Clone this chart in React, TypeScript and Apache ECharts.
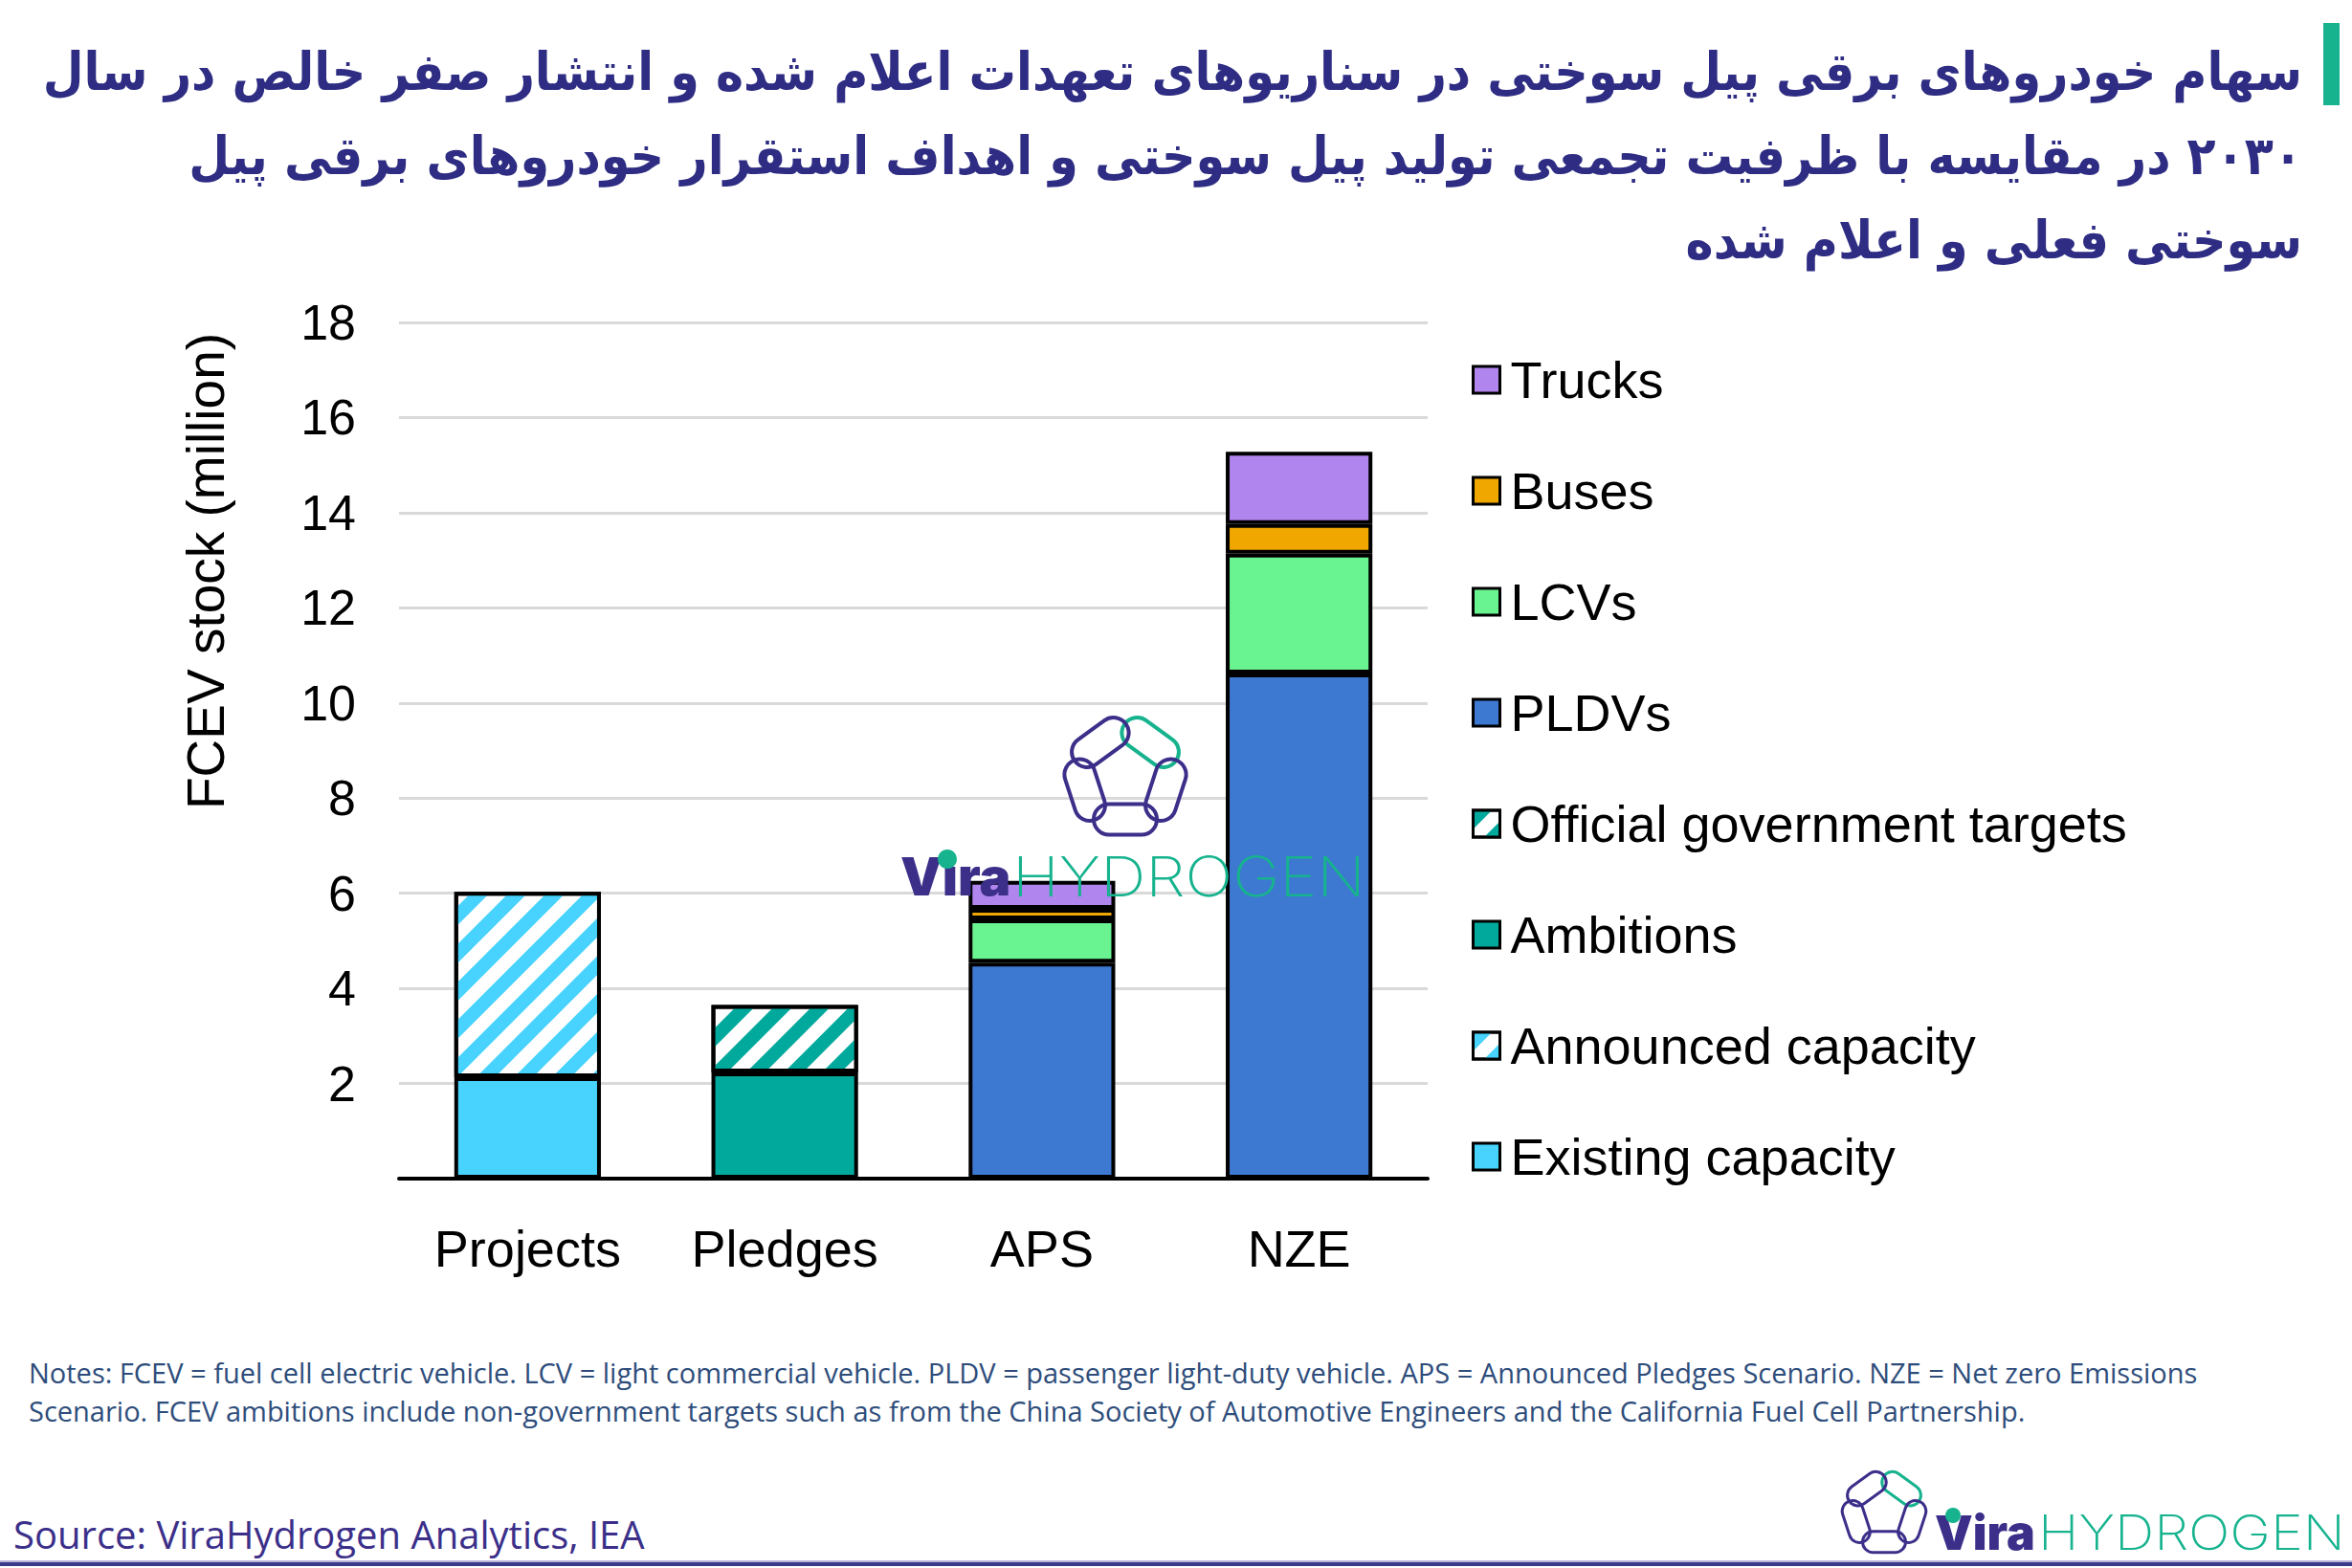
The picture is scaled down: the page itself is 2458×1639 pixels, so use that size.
import React, { useEffect, useRef } from 'react';
import * as echarts from 'echarts';

const categories = ['Projects', 'Pledges', 'APS', 'NZE'];
const existingCapacity: (number | string)[] = [2.13, '-', '-', '-'];
const announcedCapacity: (number | string)[] = [3.9, '-', '-', '-'];
const ambitions: (number | string)[] = ['-', 2.23, '-', '-'];
const officialTargets: (number | string)[] = ['-', 1.42, '-', '-'];
const pldvs: (number | string)[] = ['-', '-', 4.54, 10.62];
const lcvs: (number | string)[] = ['-', '-', 0.91, 2.52];
const buses: (number | string)[] = ['-', '-', 0.22, 0.62];
const trucks: (number | string)[] = ['-', '-', 0.59, 1.52];

const yMin = 0;
const yMax = 18;
const yInterval = 2;
const yAxisName = 'FCEV stock (million)';

const legendOrder = [
  'Trucks',
  'Buses',
  'LCVs',
  'PLDVs',
  'Official government targets',
  'Ambitions',
  'Announced capacity',
  'Existing capacity',
];

const titleLines = [
  'سهام خودروهای برقی پیل سوختی در سناریوهای تعهدات اعلام شده و انتشار صفر خالص در سال',
  '\u200F۲۰۳۰ در مقایسه با ظرفیت تجمعی تولید پیل سوختی و اهداف استقرار خودروهای برقی پیل',
  'سوختی فعلی و اعلام شده',
];

const notesLines = [
  'Notes: FCEV = fuel cell electric vehicle. LCV = light commercial vehicle. PLDV = passenger light-duty vehicle. APS = Announced Pledges Scenario. NZE = Net zero Emissions',
  'Scenario. FCEV ambitions include non-government targets such as from the China Society of Automotive Engineers and the California Fuel Cell Partnership.',
];
const sourceText = 'Source: ViraHydrogen Analytics, IEA';

const NAVY = '#2E2D83';
const TEAL = '#16B38E';
const FONT = "'Liberation Sans', Arial, sans-serif";

function chainLogo(cx: number, cy: number, R: number, W: number, L: number, lw: number) {
  const verts: number[][] = [];
  for (let k = 0; k < 5; k++) {
    const a = ((-90 + 72 * k) * Math.PI) / 180;
    verts.push([cx + R * Math.cos(a), cy + R * Math.sin(a)]);
  }
  const els: any[] = [];
  for (let k = 0; k < 5; k++) {
    const p = verts[k];
    const q = verts[(k + 1) % 5];
    const mx = (p[0] + q[0]) / 2;
    const my = (p[1] + q[1]) / 2;
    const ang = Math.atan2(q[1] - p[1], q[0] - p[0]);
    els.push({
      type: 'rect',
      x: mx,
      y: my,
      rotation: -ang,
      shape: { x: -L / 2, y: -W / 2, width: L, height: W, r: W / 2 },
      style: { fill: 'none', stroke: k === 0 ? TEAL : '#3B2F8A', lineWidth: lw },
      z: 100,
      silent: true,
    });
  }
  return els;
}

function brand(
  x: number,
  yMid: number,
  viraSize: number,
  hydroSize: number,
  hydroX: number,
  hydroScaleX: number,
  dot: number[]
) {
  return [
    {
      type: 'text',
      x,
      y: yMid,
      z: 100,
      silent: true,
      style: {
        text: 'Vira',
        fill: '#3B2F8A',
        font: `900 ${viraSize}px Inter, 'Noto Sans', sans-serif`,
        verticalAlign: 'middle',
        align: 'left',
      },
    },
    {
      type: 'circle',
      z: 101,
      silent: true,
      shape: { cx: dot[0], cy: dot[1], r: dot[2] },
      style: { fill: TEAL },
    },
    {
      type: 'text',
      x: hydroX,
      y: yMid,
      scaleX: hydroScaleX,
      z: 100,
      silent: true,
      style: {
        text: 'HYDROGEN',
        fill: TEAL,
        font: `200 ${hydroSize}px Inter, 'Noto Sans', sans-serif`,
        verticalAlign: 'middle',
        align: 'left',
      },
    },
  ];
}

function hatch(color: string) {
  return {
    symbol: 'rect',
    symbolSize: 1,
    symbolKeepAspect: false,
    color,
    dashArrayX: [1, 0],
    dashArrayY: [14, 14],
    rotation: -Math.PI / 4,
  };
}

function bar(name: string, data: (number | string)[], color: string, hatched?: boolean) {
  const itemStyle: any = {
    color: hatched ? '#FFFFFF' : color,
    borderColor: '#000000',
    borderWidth: 4,
  };
  if (hatched) itemStyle.decal = hatch(color);
  return {
    name,
    type: 'bar',
    stack: 'total',
    data,
    barWidth: '57%',
    itemStyle,
    emphasis: { disabled: true },
  };
}

export default function App() {
  const ref = useRef<HTMLDivElement>(null);
  useEffect(() => {
    const chart = echarts.init(ref.current!, null, { renderer: 'svg' });
    const graphics: any[] = [];
    titleLines.forEach((t, i) => {
      graphics.push({
        type: 'text',
        x: 2406,
        y: 75 + i * 88,
        silent: true,
        style: {
          text: t,
          fill: NAVY,
          font: "bold 54.8px 'DejaVu Sans Condensed', 'DejaVu Sans', sans-serif",
          align: 'right',
          verticalAlign: 'middle',
        },
      });
    });
    graphics.push({
      type: 'rect',
      shape: { x: 2428, y: 24, width: 17, height: 86 },
      style: { fill: TEAL },
      silent: true,
    });
    graphics.push({
      type: 'text',
      x: 215,
      y: 597,
      rotation: Math.PI / 2,
      silent: true,
      style: {
        text: yAxisName,
        fill: '#000000',
        font: `55px ${FONT}`,
        align: 'center',
        verticalAlign: 'middle',
      },
    });
    notesLines.forEach((t, i) => {
      graphics.push({
        type: 'text',
        x: 30,
        y: 1434 + i * 40,
        silent: true,
        style: {
          text: t,
          fill: '#2E4D7B',
          font: "29px 'Open Sans', sans-serif",
          align: 'left',
          verticalAlign: 'middle',
        },
      });
    });
    graphics.push({
      type: 'text',
      x: 14,
      y: 1603,
      silent: true,
      style: {
        text: sourceText,
        fill: '#3B2F8A',
        font: "40px 'Open Sans', sans-serif",
        align: 'left',
        verticalAlign: 'middle',
      },
    });
    graphics.push({
      type: 'rect',
      shape: { x: 0, y: 1631, width: 2458, height: 2 },
      style: { fill: '#B9B6DA' },
      silent: true,
    });
    graphics.push({
      type: 'rect',
      shape: { x: 0, y: 1633, width: 2458, height: 4 },
      style: { fill: '#3B3A8A' },
      silent: true,
    });
    // watermark logo
    graphics.push(...chainLogo(1176, 812, 55, 32, 66, 4));
    graphics.push(...brand(941, 916, 55, 58, 1058, 1.14, [990, 898, 10]));
    // footer logo
    graphics.push(...chainLogo(1969, 1581, 38, 22, 45, 3));
    graphics.push(...brand(2022, 1602, 50, 50, 2130, 1.15, [2041, 1584, 8]));

    const option: any = {
      animation: false,
      backgroundColor: '#FFFFFF',
      textStyle: { fontFamily: FONT },
      grid: { left: 417, top: 337, width: 1075, height: 895, containLabel: false },
      legend: {
        data: legendOrder,
        orient: 'vertical',
        left: 1538,
        top: 369,
        itemWidth: 28,
        itemHeight: 28,
        itemGap: 60,
        padding: 0,
        icon: 'rect',
        selectedMode: false,
        itemStyle: { borderWidth: 3, borderColor: '#000000' },
        textStyle: { fontSize: 54, lineHeight: 56, color: '#000000', fontFamily: FONT, padding: [0, 0, 0, 6] },
      },
      xAxis: {
        type: 'category',
        data: categories,
        axisLine: { show: true, lineStyle: { color: '#000000', width: 4 } },
        axisTick: { show: false },
        axisLabel: { fontSize: 54, color: '#000000', margin: 46, fontFamily: FONT },
        splitLine: { show: false },
      },
      yAxis: {
        type: 'value',
        min: yMin,
        max: yMax,
        interval: yInterval,
        axisLine: { show: false },
        axisTick: { show: false },
        axisLabel: {
          fontSize: 52,
          color: '#000000',
          margin: 45,
          fontFamily: FONT,
          formatter: (v: number) => (v === 0 ? '' : String(v)),
        },
        splitLine: { show: true, lineStyle: { color: '#D9D9D9', width: 3 } },
      },
      series: [
        bar('Existing capacity', existingCapacity, '#47D3FE'),
        bar('Announced capacity', announcedCapacity, '#47D3FE', true),
        bar('Ambitions', ambitions, '#00A99C'),
        bar('Official government targets', officialTargets, '#00A99C', true),
        bar('PLDVs', pldvs, '#3D78D1'),
        bar('LCVs', lcvs, '#6AF391'),
        bar('Buses', buses, '#F0A800'),
        bar('Trucks', trucks, '#B085ED'),
      ],
      graphic: graphics,
    };
    chart.setOption(option);
    return () => chart.dispose();
  }, []);
  return <div ref={ref} style={{ position: 'absolute', left: 0, top: 0, width: 2458, height: 1639 }} />;
}
